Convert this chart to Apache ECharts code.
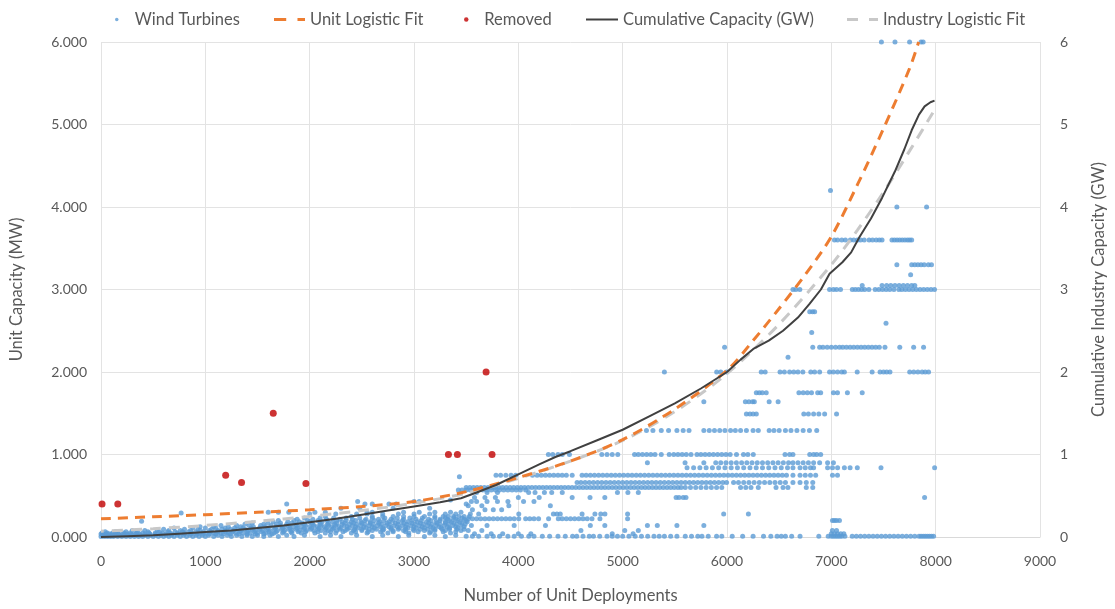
<!DOCTYPE html>
<html><head><meta charset="utf-8">
<script src="https://cdn.jsdelivr.net/npm/echarts@6/dist/echarts.min.js"></script>
<style>html,body{margin:0;padding:0;background:#fff}#c{width:1115px;height:609px}</style>
</head><body><div id="c"></div>
<script>
// ---- tick labels / axes ----
const xTicks = [0,1000,2000,3000,4000,5000,6000,7000,8000,9000];
const yLeftTicks = [0,1,2,3,4,5,6];

// ---- Wind turbines: capacity (MW) rows, x = deployment number ----
const turbinesLow = [
 [0.005,[0,30,60,90,120,160,200,240,280,320,360,400,450,500,550,600,650,700,760,820,880,940,1000,1080,1160,1250,1350,1450,1560,1700,1850,2100,2300,2600,2850,3100,3300]],
 [0.02,[15,45,75,105,135,180,220,260,300,340,380,425,475,525,575,625,675,730,790,850,910,970,1030,1120,1210,1300,1400,1500,1620,1780,1950,2200,2450,2700,2950,3200,3400]],
 [0.035,[0,20,50,80,110,140,170,210,250,290,330,370,420,470,520,570,620,680,740,800,860,920,980,1040,1100,1170,1240,1320,1400,1480,1560,1640]],
 [0.05,[10,60,110,160,220,280,340,400,460,520,590,660,730,800,870,940,1010,1080,1150,1220,1290,1360,1430,1500,1580,1660,1740,1830,1920,2050,2150,2250,2400,2550,2750,2950,3150,3350]],
 [0.065,[40,140,240,350,450,560,640,710,780,840,910,980,1050,1120,1190,1260,1330,1400,1470,1540,1610,1680,1750,1820,1890,1960,2080,2200,2320,2440,2560,2680,2800,2920,3040,3160,3280,3400]],
 [0.08,[300,420,540,650,760,860,950,1040,1120,1200,1270,1340,1410,1480,1550,1620,1690,1760,1830,1900,1970,2040,2110,2180,2260,2340,2420,2500,2600,2700,2800,2900,3000,3100,3200,3300,3450]],
 [0.095,[600,800,930,1060,1160,1240,1310,1380,1450,1520,1590,1660,1730,1800,1870,1940,2010,2080,2150,2220,2290,2360,2430,2500,2570,2640,2710,2780,2850,2920,2990,3060,3130,3200,3270,3340,3410,3480]],
 [0.11,[700,880,1000,1100,1190,1280,1360,1440,1520,1600,1670,1740,1810,1880,1950,2020,2090,2160,2230,2300,2380,2460,2540,2620,2700,2780,2860,2940,3020,3100,3180,3260,3340,3420]],
 [0.125,[950,1080,1220,1340,1460,1570,1680,1760,1840,1920,2000,2070,2140,2210,2280,2360,2440,2520,2600,2680,2760,2840,2920,3000,3080,3160,3240,3320,3400,3480]],
 [0.14,[1150,1300,1420,1530,1630,1720,1800,1880,1960,2040,2110,2180,2250,2330,2410,2490,2570,2650,2730,2810,2890,2970,3050,3130,3210,3290,3370,3450]],
 [0.155,[1380,1560,1680,1780,1870,1950,2030,2100,2170,2240,2310,2380,2450,2530,2610,2690,2770,2850,2930,3010,3090,3170,3250,3330,3410,3490]],
 [0.17,[1450,1600,1720,1830,1930,2020,2100,2180,2260,2340,2420,2500,2580,2660,2740,2820,2900,2980,3060,3140,3220,3300,3380,3460]],
 [0.185,[1650,1790,1900,2000,2120,2220,2310,2400,2490,2580,2670,2760,2850,2940,3030,3120,3210,3300,3360,3440,3510]],
 [0.19,[389]],
 [0.20,[1700,1850,1980,2080,2170,2260,2350,2440,2530,2620,2710,2800,2890,2980,3070,3160,3250,3340,3420,3500]],
 [0.215,[1880,2030,2160,2290,2410,2540,2660,2780,2900,3020,3140,3250,3320,3400,3480]],
 [0.23,[1950,2100,2230,2350,2480,2600,2720,2840,2960,3080,3200,3300,3380,3460]],
 [0.25,[2150,2400,2600,2700,2800,2900,3000,3100,3200,3280,3330,3380,3430,3480,3530]],
 [0.28,[2000,2250,2450,2550,2700,2850,3000,3150,3300,3400]],
 [0.29,[768]],
 [0.30,[1603,1700,1800,2050,2150,2550,2600,2900,3050,3200,3350,3450]],
 [0.35,[2300,2480,2800,3150]],
 [0.40,[1780,2530,2600,2760,2830,3500]],
 [0.43,[2460,3000,3050]],
 [0.45,[3350]]
];
const turbinesHigh = [
 [0.01,[3500,3560,3620,3700,3760,3820,3900,3960,4030,4100,4150,4230,4300,4380,4450,4520,4560,4620,4680,4720,4780,4850,4900,4950,5000,5060,5120,5180,5240,5300,5350,5400,5460,5520,5600,5660,5720,5760,5820,5900,5950,6050,6150,6250,6350,6420,6480,6520,6560,6620,6700,6880,6970,7000,7020,7040,7060,7080,7100,7130,7200,7240,7280,7320,7360,7400,7440,7480,7520,7560,7600,7640,7680,7720,7760,7800,7840,7860,7880,7900,7920,7940,7960,7980]],
 [0.04,[3580,3740,3850,4000,4120,4900,5100,7000,7030,7060,7090,7120]],
 [0.08,[3520,3650,4600,5020,5150,7010,7050]],
 [0.14,[3550,3700,3960,4260,4690,4829,5237,5332,5520,5778]],
 [0.20,[7011,7030,7050,7078]],
 [0.22,[3520,3560,3600,3640,3680,3720,3760,3800,3840,3880,3920,3960,4004,4070,4110,4150,4194,4290,4383,4420,4460,4500,4540,4580,4620,4660,4706,4782,5047]],
 [0.28,[3540,3620,4004,4336,4370,4402,4611,4734,4790,4830,5047,5968,6205]],
 [0.33,[3560,3680,3760,3840]],
 [0.38,[3520,3650,3909,4307]],
 [0.43,[3550,3600,3700,3800,3900,4050,4150]],
 [0.48,[3580,3680,3780,4000,4200,4516,4687,4829,5512,5540,5580,5607,7894]],
 [0.54,[3600,3700,3800,4099,4160,4250,4320,4421,4950,5050,5150]],
 [0.57,[3425,3460,3500,3540,3580,3620,3660,3700,3740,3780,3820,3860,3900,3940,3980,4020,4070]],
 [0.60,[3500,3535,3570,3605,3640,3675,3710,3745,3780,3815,3850,3885,3920,3955,3990,4025,4060,4095,4130,4165,4200,4235,4270,4305,4340,4375,4410,4445,4480,4515,4550,4585,4620,4655,4690,4725,4760,4795,4830,4865,4900,4935,4970,5005,5040,5075,5110,5145,5180,5215,5250,5285,5320,5355,5390,5425,5460,5495,5530,5560,5600,5650,5700,5750,5800,5850,5900,5950,6130,6180,6230,6300,6470,6537,6584,6760,6822]],
 [0.66,[4563,4600,4640,4680,4720,4760,4800,4840,4880,4920,4960,5000,5040,5080,5120,5160,5200,5240,5280,5320,5360,5400,5440,5480,5520,5560,5600,5640,5680,5720,5760,5800,5840,5880,5920,5960,5996,6063,6110,6160,6210,6260,6310,6360,6410,6460,6510,6560,6632,6700,6760,6822]],
 [0.73,[3435]],
 [0.75,[3786,3830,3880,3930,3975,4136,4180,4220,4260,4300,4340,4380,4420,4460,4516,4611,4650,4690,4730,4770,4810,4850,4890,4930,4970,5010,5050,5090,5130,5170,5210,5250,5290,5330,5370,5410,5450,5490,5530,5570,5610,5650,5690,5730,5770,5810,5850,5890,5930,5970,6010,6050,6090,6130,6170,6210,6250,6290,6330,6370,6410,6450,6490,6530,6570,6632,6700,6750,6800,6850,7011,7059]],
 [0.84,[5617,5680,5740,5800,5860,5920,5980,6040,6100,6160,6220,6280,6340,6400,6460,6520,6580,6632,6700,6750,6800,6830,6964,7011,7060,7125,7180,7249,7476,7990]],
 [0.90,[5237,5598,5778,5892,5940,5990,6040,6090,6140,6190,6240,6290,6340,6390,6440,6490,6540,6590,6632,6680,6730,6780,6830,6888,6964,7020]],
 [1.00,[4288,4330,4380,4421,4490,4800,4850,4900,4953,5114,5150,5190,5230,5270,5310,5370,5446,5490,5530,5570,5610,5655,5712,5750,5790,5830,5870,5910,5950,5990,6030,6091,6158,6200,6252,6556,6600,6632,6793,6830,6860,6898]],
 [1.29,[5228,5290,5370,5440,5520,5580,5636,5778,5830,5880,5930,5980,6034,6080,6130,6186,6250,6300,6404,6450,6500,6560,6613,6670,6730,6790,6860]],
 [1.49,[6186,6220,6250,6281,6736,6780,6830,6880,6936,7050]],
 [1.64,[5778,6176,6210,6245,6262,6404,6490]],
 [1.75,[6281,6310,6338,6376,6689,6730,6770,6810,6869,6898,7020,7059,7154,7296]],
 [2.00,[5400,5901,5940,5996,6328,6366,6508,6550,6600,6640,6680,6727,6803,6840,6888,6983,7020,7060,7100,7125,7248,7391,7467,7500,7530,7562,7751,7790,7830,7870,7900,7932]],
 [2.18,[6585]],
 [2.30,[5977,6822,6888,6920,6960,7000,7040,7078,7110,7145,7180,7215,7250,7285,7320,7355,7390,7425,7460,7514,7656,7789,7884]],
 [2.48,[6812]],
 [2.59,[7524]],
 [2.73,[6793,6820,6840]],
 [3.00,[6632,6660,6698,6983,7020,7050,7088,7201,7230,7260,7290,7320,7360,7420,7455,7490,7525,7560,7600,7647,7676,7710,7745,7780,7815,7850,7885,7920,7955,7989]],
 [3.05,[7296,7486,7530,7570,7610,7650,7690,7730,7770,7800]],
 [3.18,[7760]],
 [3.30,[7628,7770,7800,7830,7860,7890,7930,7960]],
 [3.60,[7030,7060,7100,7135,7182,7215,7250,7280,7315,7362,7395,7430,7460,7486,7581,7605,7630,7655,7680,7705,7730,7750,7770]],
 [4.00,[7628,7913]],
 [4.20,[6992]],
 [6.00,[7480,7610,7750,7860,7880]]
];

// ---- Removed units (MW) ----
const removedX = [10,161,1195,1347,1651,1964,3330,3416,3691,3748];
const removedY = [0.40,0.40,0.75,0.66,1.50,0.65,1.00,1.00,2.00,1.00];

// ---- Unit logistic fit (MW) ----
const unitFitX = [0,500,1000,1500,2000,2500,3000,3500,4000,4500,5000,5500,6000,6250,6500,6750,7000,7250,7500,7750,7837];
const unitFitY = [0.22,0.245,0.27,0.30,0.33,0.37,0.43,0.55,0.72,0.92,1.18,1.55,2.02,2.38,2.77,3.18,3.64,4.27,4.95,5.68,6.0];

// ---- Cumulative capacity (GW) ----
const cumX = [0,250,500,750,1000,1250,1500,1750,2000,2250,2500,2750,3000,3250,3450,3600,3786,4000,4200,4355,4500,4750,5000,5250,5500,5750,6000,6130,6252,6400,6537,6680,6793,6900,6983,7106,7190,7267,7380,7486,7609,7700,7770,7840,7894,7950,7989];
const cumY = [0.0,0.01,0.02,0.04,0.06,0.08,0.11,0.14,0.18,0.22,0.27,0.32,0.37,0.42,0.47,0.54,0.63,0.76,0.88,0.97,1.04,1.17,1.30,1.46,1.62,1.80,2.00,2.15,2.28,2.38,2.50,2.66,2.83,3.00,3.19,3.33,3.45,3.63,3.86,4.11,4.43,4.70,4.93,5.12,5.22,5.27,5.29];

// ---- Industry logistic fit (GW) ----
const indFitX = [0,500,1000,1500,2000,2500,3000,3500,4000,4500,5000,5500,6000,6500,7000,7250,7500,7750,8000];
const indFitY = [0.07,0.10,0.14,0.19,0.25,0.32,0.41,0.53,0.71,0.92,1.17,1.52,1.98,2.58,3.30,3.72,4.18,4.68,5.20];

const pairs = (xs, ys) => xs.map((x, i) => [x, ys[i]]);
const rowsToPoints = rows => rows.flatMap(([y, xs]) => xs.map(x => [x, y]));
const turbinePts = rowsToPoints(turbinesLow).concat(rowsToPoints(turbinesHigh));

const FONT = 'Lato';
const GREY = '#595959';
const legendBase = (name, left, w, h, icon) => ({
  data: [{name: name, icon: icon}], left: left, top: 6, itemWidth: w, itemHeight: h,
  textStyle: {fontFamily: FONT, fontSize: 16.5, color: GREY}, selectedMode: false
});

const chart = echarts.init(document.getElementById('c'), null, {renderer: 'canvas'});
chart.setOption({
  animation: false,
  backgroundColor: '#fff',
  textStyle: {fontFamily: FONT},
  legend: [
    legendBase('Wind Turbines', 110, 26, 3.5, 'circle'),
    legendBase('Unit Logistic Fit', 269, 31, 4, 'path://M0,0h13v3h-13z M25,0h8v3h-8z'),
    legendBase('Removed', 459, 26, 4.5, 'circle'),
    legendBase('Cumulative Capacity (GW)', 581, 32, 3, 'path://M0,0h32v2h-32z'),
    legendBase('Industry Logistic Fit', 842, 31, 4, 'path://M0,0h11v3h-11z M22,0h9v3h-9z')
  ],
  grid: {left: 101, right: 65, top: 42, bottom: 66, containLabel: false},
  xAxis: {
    type: 'value', min: xTicks[0], max: xTicks[xTicks.length-1], interval: 1000,
    name: 'Number of Unit Deployments', nameLocation: 'middle', nameGap: 50,
    nameTextStyle: {fontFamily: FONT, fontSize: 16.5, color: GREY},
    axisLine: {show: true, lineStyle: {color: '#d9d9d9'}},
    axisTick: {show: false},
    axisLabel: {fontFamily: FONT, fontSize: 14, color: GREY, margin: 17, formatter: v => String(v)},
    splitLine: {show: true, lineStyle: {color: '#e3e3e3'}}
  },
  yAxis: [{
    type: 'value', min: yLeftTicks[0], max: yLeftTicks[yLeftTicks.length-1], interval: 1,
    name: 'Unit Capacity (MW)', nameLocation: 'middle', nameGap: 76, nameRotate: 90,
    nameTextStyle: {fontFamily: FONT, fontSize: 16.5, color: GREY},
    axisLine: {show: false}, axisTick: {show: false},
    axisLabel: {fontFamily: FONT, fontSize: 14, color: GREY, margin: 14, formatter: v => v.toFixed(3)},
    splitLine: {show: true, lineStyle: {color: '#e3e3e3'}}
  }, {
    type: 'value', min: yLeftTicks[0], max: yLeftTicks[yLeftTicks.length-1], interval: 1,
    name: 'Cumulative Industry Capacity (GW)', nameLocation: 'middle', nameGap: 50, nameRotate: 90,
    nameTextStyle: {fontFamily: FONT, fontSize: 16.5, color: GREY},
    axisLine: {show: false}, axisTick: {show: false},
    axisLabel: {fontFamily: FONT, fontSize: 14, color: GREY, margin: 20},
    splitLine: {show: false}
  }],
  series: [
    {name: 'Wind Turbines', type: 'scatter', data: turbinePts, symbol: 'circle', symbolSize: 5,
     itemStyle: {color: '#5b9bd5'}, z: 2},
    {name: 'Unit Logistic Fit', type: 'line', data: pairs(unitFitX, unitFitY), smooth: 0.3, symbol: 'none',
     lineStyle: {color: '#ed7d31', width: 3, type: [10, 7]}, itemStyle: {color: '#ed7d31'}, z: 4},
    {name: 'Removed', type: 'scatter', data: pairs(removedX, removedY), symbol: 'circle', symbolSize: 7,
     itemStyle: {color: '#c00000'}, z: 6},
    {name: 'Cumulative Capacity (GW)', type: 'line', yAxisIndex: 1, data: pairs(cumX, cumY), smooth: false, symbol: 'none',
     lineStyle: {color: '#404040', width: 2}, itemStyle: {color: '#404040'}, z: 5},
    {name: 'Industry Logistic Fit', type: 'line', yAxisIndex: 1, data: pairs(indFitX, indFitY), smooth: 0.3, symbol: 'none',
     lineStyle: {color: '#c8c8c8', width: 3, type: [11, 8], dashOffset: 8}, itemStyle: {color: '#c8c8c8'}, z: 3}
  ]
});
</script></body></html>
